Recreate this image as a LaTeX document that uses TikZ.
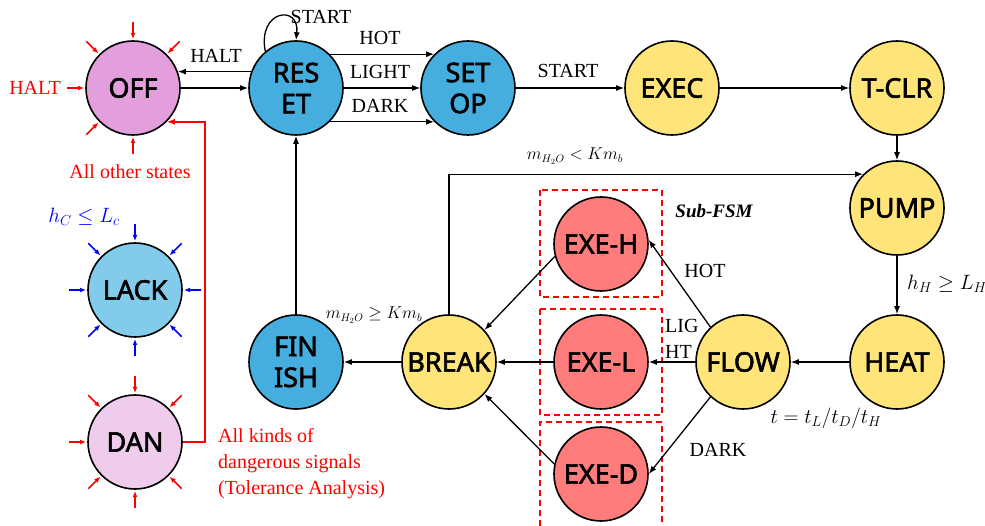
\documentclass[tikz,border=0pt]{standalone}
\usepackage{fontspec}
\setmainfont{Liberation Serif}
\newfontfamily\nodefont{Noto Sans}[FakeBold=2.2]
\usetikzlibrary{arrows.meta,calc}
\definecolor{cOff}{RGB}{226,159,219}
\definecolor{cBlue}{RGB}{69,174,222}
\definecolor{cYel}{RGB}{255,228,122}
\definecolor{cRed}{RGB}{255,124,124}
\definecolor{cLack}{RGB}{131,203,235}
\definecolor{cDan}{RGB}{240,204,236}
\definecolor{sigred}{RGB}{255,0,0}
\definecolor{sigblue}{RGB}{0,0,255}
\begin{document}
\begin{tikzpicture}[x=1pt,y=-1pt,
  st/.style={circle,draw=black,line width=1.6pt,minimum size=94pt,inner sep=0pt,
    font=\nodefont\fontsize{27}{31}\selectfont,align=center},
  edge/.style={-{Latex[length=8pt,width=6pt]},line width=1.3pt},
  sig/.style={-{Latex[length=6pt,width=5pt]},line width=1.7pt,draw=#1},
  lab/.style={font=\fontsize{20}{24}\selectfont,inner sep=0pt},
  mlab/.style={font=\fontsize{21}{25}\selectfont,inner sep=0pt},
  slab/.style={font=\fontsize{16}{19}\selectfont,inner sep=0pt},
  subbox/.style={draw=sigred,line width=1.5pt,dash pattern=on 6pt off 4pt}
]
\useasboundingbox (0,0) rectangle (985,526);

% states
\node[st,fill=cOff]  (OFF)    at (133,88)  {OFF};
\node[st,fill=cBlue] (RESET)  at (296,88)  {RES\\ET};
\node[st,fill=cBlue] (SETOP)  at (468,88)  {SET\\OP};
\node[st,fill=cYel]  (EXEC)   at (672,88)  {EXEC};
\node[st,fill=cYel]  (TCLR)   at (897,88)  {T-CLR};
\node[st,fill=cYel]  (PUMP)   at (897,208) {PUMP};
\node[st,fill=cYel]  (HEAT)   at (897,362) {HEAT};
\node[st,fill=cYel]  (FLOW)   at (743,362) {FLOW};
\node[st,fill=cRed]  (EXEH)   at (601,244) {EXE-H};
\node[st,fill=cRed]  (EXEL)   at (601,362) {EXE-L};
\node[st,fill=cRed]  (EXED)   at (601,474) {EXE-D};
\node[st,fill=cYel]  (BREAK)  at (449,362) {BREAK};
\node[st,fill=cBlue] (FINISH) at (296,362) {FIN\\ISH};
\node[st,fill=cLack] (LACK)   at (135,290) {LACK};
\node[st,fill=cDan]  (DAN)    at (135,442) {DAN};

% sub-FSM boxes
\draw[subbox] (540,190) rectangle (662,297);
\draw[subbox] (540,309) rectangle (662,415);
\draw[subbox] (540,526) -- (540,422) -- (662,422) -- (662,526);
\node[font=\bfseries\itshape\fontsize{19}{22}\selectfont,inner sep=0pt] (subfsm) at (714,211) {Sub-FSM};

% signal arrows
\foreach \a in {-135,-90,-45,180,135,90}
  \draw[sig=sigred] ($(OFF)+(\a:66)$) -- ($(OFF)+(\a:49)$);
\foreach \a in {0,45,...,315}
  \draw[sig=sigblue] ($(LACK)+(\a:66)$) -- ($(LACK)+(\a:49)$);
\foreach \a in {45,90,...,315}
  \draw[sig=sigred] ($(DAN)+(\a:66)$) -- ($(DAN)+(\a:49)$);

\node[lab,text=sigred] (haltin) at (35,88) {HALT};
\node[lab,text=sigred] (allother) at (130,172) {All other states};
\node[mlab,text=sigblue] (hc) at (84,217) {$h_C \leq L_c$};
\node[lab,text=sigred,align=left,anchor=north west,font=\fontsize{20}{26}\selectfont] (danger) at (218,428)
  {All kinds of\\dangerous signals\\(Tolerance Analysis)};

% danger line to OFF
\coordinate (dturn) at ($(DAN.east)+(22,0)$);
\draw[-{Latex[length=8pt,width=6pt]},line width=1.5pt,draw=sigred] (DAN.east) -- (dturn) |- (OFF.-45);

% edges top row
\draw[edge] (RESET.160) -- (OFF.20);
\draw[edge] (OFF.east) -- (RESET.west);
\node[lab] (lhalt) at (216,56) {HALT};
\draw[edge] (RESET.130) .. controls ($(RESET.130)+(-8,-42)$) and ($(RESET.90)+(4,-36)$) .. (RESET.90);
\node[lab] (lstart1) at (321,17) {START};
\draw[edge] (RESET.45) -- (SETOP.135);
\draw[edge] (RESET.east) -- (SETOP.west);
\draw[edge] (RESET.-45) -- (SETOP.-135);
\node[lab] (lhot1) at (380,38) {HOT};
\node[lab] (llight) at (380,72) {LIGHT};
\node[lab] (ldark1) at (380,106) {DARK};
\draw[edge] (SETOP.east) -- (EXEC.west);
\node[lab] (lstart2) at (568,71) {START};
\draw[edge] (EXEC.east) -- (TCLR.west);
\draw[edge] (TCLR.south) -- (PUMP.north);
\draw[edge] (PUMP.south) -- (HEAT.north);
\node[mlab,anchor=west] (lhh) at (907,284) {$h_H \geq L_H$};
\draw[edge] (HEAT.west) -- (FLOW.east);
\node[mlab] (lt) at (826,418) {$t = t_L/t_D/t_H$};

% sub FSM edges
\draw[edge] (FLOW.133) -- (EXEH.5);
\node[lab] (lhot2) at (705,271) {HOT};
\draw[edge] (FLOW.west) -- (EXEL.east);
\node[lab,align=left,anchor=west,font=\fontsize{20}{26}\selectfont] (llig) at (665,339) {LIG\\HT};
\draw[edge] (FLOW.-133) -- (EXED.0);
\node[lab] (ldark2) at (718,450) {DARK};
\draw[edge] (EXEH.195) -- (BREAK.42);
\draw[edge] (EXEL.west) -- (BREAK.east);
\draw[edge] (EXED.168) -- (BREAK.-42);

% break edges
\draw[edge] (BREAK.west) -- (FINISH.east);
\node[slab] (lge) at (374,315) {$m_{H_2O} \geq Km_b$};
\draw[edge] (BREAK.north) |- (PUMP.135);
\node[slab] (llt) at (575,156) {$m_{H_2O} < Km_b$};
\draw[edge] (FINISH.north) -- (RESET.south);
\end{tikzpicture}
\end{document}
